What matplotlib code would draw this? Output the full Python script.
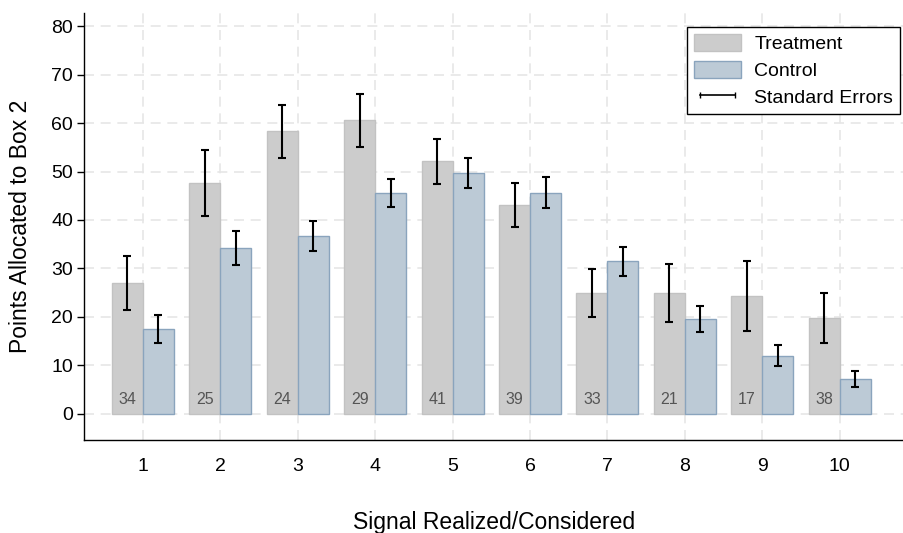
import matplotlib
matplotlib.use("Agg")
import matplotlib.pyplot as plt
from matplotlib.lines import Line2D
from matplotlib.patches import Patch
import numpy as np

plt.rcParams["font.family"] = ["Liberation Sans", "DejaVu Sans"]

# data
signals   = [1, 2, 3, 4, 5, 6, 7, 8, 9, 10]
treat     = [27.0, 47.6, 58.3, 60.6, 52.1, 43.1, 24.9, 24.9, 24.3, 19.8]
treat_se  = [5.6, 6.8, 5.5, 5.5, 4.7, 4.6, 5.0, 6.0, 7.3, 5.2]
control   = [17.5, 34.2, 36.7, 45.5, 49.7, 45.6, 31.5, 19.6, 12.0, 7.2]
control_se = [2.9, 3.5, 3.0, 2.9, 3.0, 3.2, 3.0, 2.7, 2.2, 1.7]
counts    = [34, 25, 24, 29, 41, 39, 33, 21, 17, 38]

x = np.array(signals)
w = 0.4

fig = plt.figure(figsize=(9.04, 5.33), dpi=100)
ax = fig.add_axes([0.093, 0.1745, 0.907, 0.801])

ax.bar(x - w / 2, treat, width=w, color="#cccccc", edgecolor="#c2c2c2", linewidth=1, zorder=2)
ax.bar(x + w / 2, control, width=w, color="#bccad6", edgecolor="#8aa4bd", linewidth=1, zorder=2)
ax.errorbar(x - w / 2, treat, yerr=treat_se, fmt="none", ecolor="black",
            elinewidth=1.5, capsize=3, capthick=1.5, zorder=3)
ax.errorbar(x + w / 2, control, yerr=control_se, fmt="none", ecolor="black",
            elinewidth=1.5, capsize=3, capthick=1.5, zorder=3)

for xi, n in zip(x, counts):
    ax.text(xi - w / 2, 1.5, str(n), ha="center", va="bottom", fontsize=11.5,
            color="#555555", zorder=4)

ax.set_xlim(0.24, 10.83)
ax.set_ylim(-5.4, 82.7)
ax.set_yticks(range(0, 81, 10))
ax.set_xticks(signals)
ax.tick_params(axis="x", length=0, pad=13, labelsize=14)
ax.tick_params(axis="y", length=5, width=1, pad=3, labelsize=14)

ax.grid(True, color="#e6e6e6", linestyle=(0, (6, 4)), linewidth=1.2, zorder=0)
ax.set_axisbelow(True)
for s in ["top", "right"]:
    ax.spines[s].set_visible(False)
ax.spines["left"].set_linewidth(1)
ax.spines["bottom"].set_linewidth(1)

ax.set_ylabel("Points Allocated to Box 2", fontsize=16.5, labelpad=14)
ax.set_xlabel("Signal Realized/Considered", fontsize=16.5, labelpad=26)

handles = [
    Patch(facecolor="#cccccc", edgecolor="#c2c2c2", label="Treatment"),
    Patch(facecolor="#bccad6", edgecolor="#8aa4bd", label="Control"),
    Line2D([], [], color="black", lw=1.2, marker="|", markersize=5, label="Standard Errors"),
]
leg = ax.legend(handles=handles, loc="upper right", bbox_to_anchor=(0.995, 0.967),
                borderaxespad=0, fontsize=14, frameon=True, fancybox=False,
                edgecolor="black", framealpha=1, numpoints=2, handlelength=2.4,
                handleheight=1.0, labelspacing=0.38, borderpad=0.35, handletextpad=0.7)
leg.get_frame().set_linewidth(1)

fig.savefig("out.png", dpi=100)
